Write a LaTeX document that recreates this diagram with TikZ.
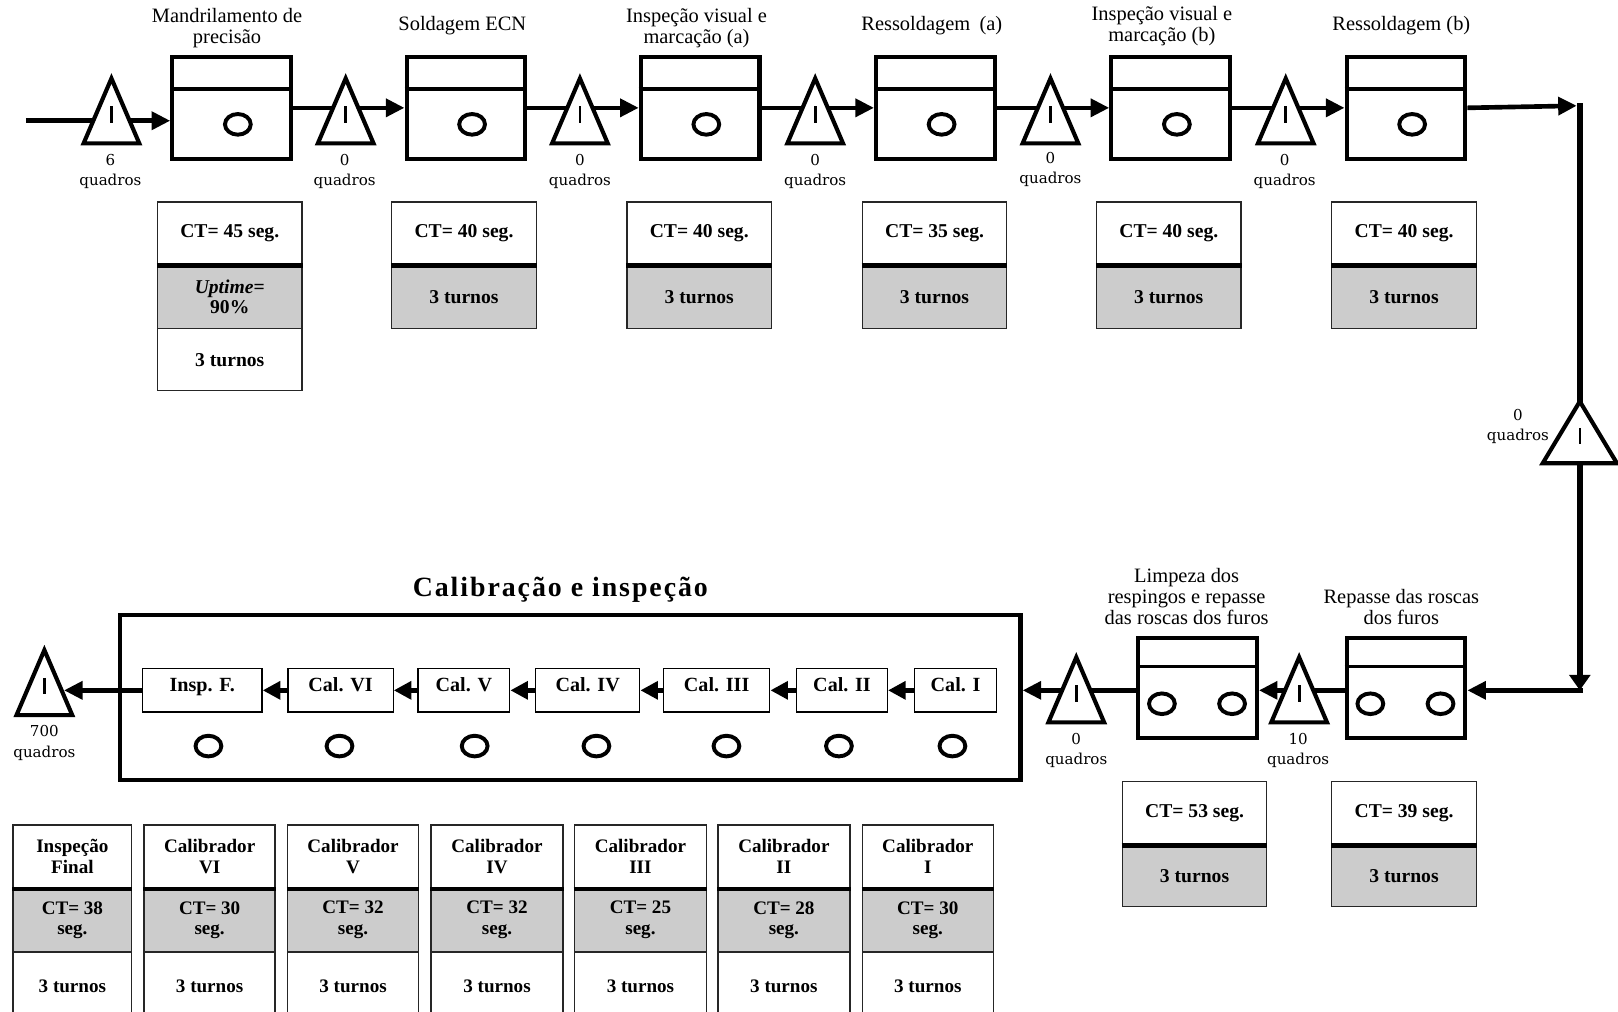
\documentclass[tikz,border=0pt]{standalone}
\usepackage{fontspec}
\setmainfont{Liberation Serif}
\newfontfamily\qfont{DejaVu Serif}
\newfontfamily\bigtitlefont[LetterSpace=7]{Liberation Serif}
\usetikzlibrary{arrows.meta,calc}
\definecolor{cellgray}{RGB}{204,204,204}
\tikzset{
  procbox/.style={draw,line width=4pt,minimum width=115pt,minimum height=99pt,inner sep=0pt,anchor=north west},
  flow/.style={line width=4.5pt},
  tipA/.style={-{Triangle[length=18pt,width=17pt]}},
  tipS/.style={-{Triangle[length=17pt,width=17pt]}},
  ttl/.style={font=\fontsize{19.8}{20}\selectfont,align=center,inner sep=0pt},
  qlab/.style={font=\qfont\fontsize{14.6}{19.5}\selectfont,align=center,inner sep=0pt},
  cell/.style={draw=black!85,line width=1.3pt,minimum width=140pt,inner sep=0pt,align=center,font=\bfseries\fontsize{19}{19}\selectfont,anchor=north west},
  bcell/.style={draw=black!85,line width=1.3pt,inner sep=0pt,align=center,font=\bfseries\fontsize{18.5}{20}\selectfont,anchor=north west},
  sepline/.style={line width=4pt},
  hdrline/.style={line width=3.5pt},
  calbox/.style={draw,line width=1.2pt,minimum height=42pt,inner sep=0pt,text height=13pt,text depth=10pt,font=\bfseries\fontsize{19.5}{20}\selectfont},
  opcircle/.style={line width=3.8pt},
  buf/.pic={
    \draw[line width=4pt,fill=white,line join=miter] (0,-31.5) -- (27,31.5) -- (-27,31.5) -- cycle;
    \draw[line width=2.6pt] (0,-4.5) -- (0,11.5);
  },
}
\begin{document}
\begin{tikzpicture}[x=1pt,y=-1pt]
\useasboundingbox (0,0) rectangle (1568,980);
\clip (0,0) rectangle (1568,980);
\fill[white] (0,0) rectangle (1568,980);

% ---------- top row process boxes ----------
\foreach \i/\x in {1/165,2/392,3/619,4/847,5/1075,6/1303}{
  \node[procbox] (b\i) at (\x,53) {};
  \draw[hdrline] ($(b\i.north west)+(0,33)$) -- ($(b\i.north east)+(0,33)$);
  \draw[opcircle] ($(b\i.center)+(6,16)$) ellipse [x radius=12.5pt, y radius=10pt];
}

% titles
\node[ttl] (h1) at (220,27) {Mandrilamento de\\precisão};
\node[ttl] (h2) at (448,25) {Soldagem ECN};
\node[ttl] (h3) at (675,27) {Inspeção visual e\\marcação (a)};
\node[ttl] (h4) at (903,25) {Ressoldagem\hspace{0.45em}(a)};
\node[ttl] (h5) at (1126,25) {Inspeção visual e\\marcação (b)};
\node[ttl] (h6) at (1358,25) {Ressoldagem (b)};

% connectors top row
\coordinate (in) at (25,117);
\draw[flow,tipA] (in) -- (in -| b1.west);
\foreach \a/\b in {1/2,2/3,3/4,4/5,5/6}{
  \draw[flow,tipA] (b\a.east) -- (b\b.west);
}
\coordinate (c1) at (1531,102.5);
\coordinate (c2) at (1531,669);
\draw[flow,tipA] (b6.east) -- ([xshift=-3pt]c1);
\draw[line width=6pt,-{Triangle[length=15pt,width=20pt]}] ([yshift=2.25pt]c1) -- (c2);

% buffers top row
\foreach \x in {108,335,562,790,1018,1246}{
  \pic at (\x,107.5) {buf};
}
\pic[xscale=1.333,yscale=0.952] at (1531,419) {buf};

% quantity labels top
\node[qlab] (q1) at (107,166) {6\\quadros};
\node[qlab] (q2) at (334,166) {0\\quadros};
\node[qlab] (q3) at (562,166) {0\\quadros};
\node[qlab] (q4) at (790,166) {0\\quadros};
\node[qlab] (q5) at (1018,164) {0\\quadros};
\node[qlab] (q6) at (1245,166) {0\\quadros};
\node[qlab] (q7) at (1471,413) {0\\quadros};

% ---------- top data boxes ----------
\node[cell,minimum height=61pt] (ct1) at (152,195) {CT= 45 seg.};
\node[cell,minimum height=62pt,fill=cellgray] (up1) at (152,256) {{\itshape Uptime}=\\90\%};
\node[cell,minimum height=60pt] (tu1) at (152,318) {3 turnos};
\draw[sepline] (ct1.south west) -- (ct1.south east);
\foreach \i/\x/\v in {2/379/40,3/607/40,4/835/35,5/1062/40,6/1290/40}{
  \node[cell,minimum height=61pt] (ct\i) at (\x,195) {CT= \v\ seg.};
  \node[cell,minimum height=62pt,fill=cellgray] (tu\i) at (\x,256) {3 turnos};
  \draw[sepline] (ct\i.south west) -- (ct\i.south east);
}

% ---------- bottom right processes ----------
\node[procbox,minimum height=97pt] (rb) at (1303,616) {};
\node[procbox,minimum height=97pt] (lb) at (1101,616) {};
\foreach \n in {rb,lb}{
  \draw[hdrline] ($(\n.north west)+(0,30)$) -- ($(\n.north east)+(0,30)$);
  \draw[opcircle] ($(\n.west)+(25,15.5)$) ellipse [x radius=12.5pt, y radius=10pt];
  \draw[opcircle] ($(\n.east)+(-26,15.5)$) ellipse [x radius=12.5pt, y radius=10pt];
}
\node[ttl] (h7) at (1150,578) {Limpeza dos\\respingos e repasse\\das roscas dos furos};
\node[ttl] (h8) at (1358,588) {Repasse das roscas\\dos furos};

% big calibration box
\node[draw,line width=4pt,minimum width=873pt,minimum height=160pt,inner sep=0pt,anchor=north west] (big) at (114,594) {};
\node[font=\bigtitlefont\bfseries\fontsize{27}{27}\selectfont,inner sep=0pt] (calt) at (543,572) {Calibração e inspeção};

\node[calbox,minimum width=80pt]  (cal1) at (926,669) {Cal. I};
\node[calbox,minimum width=88pt]  (cal2) at (816,669) {Cal. II};
\node[calbox,minimum width=103pt] (cal3) at (694.5,669) {Cal. III};
\node[calbox,minimum width=101pt] (cal4) at (569.5,669) {Cal. IV};
\node[calbox,minimum width=89pt]  (cal5) at (449.5,669) {Cal. V};
\node[calbox,minimum width=102pt] (cal6) at (330,669) {Cal. VI};
\node[calbox,minimum width=116pt] (cal7) at (196,669) {Insp. F.};
\foreach \a/\b in {1/2,2/3,3/4,4/5,5/6,6/7}{
  \draw[flow,tipS] (cal\a.west) -- (cal\b.east);
}
\foreach \cx in {923,813,704,578,460,329,202}{
  \draw[opcircle] (\cx,723) ellipse [x radius=12.5pt, y radius=10pt];
}

% bottom flow connectors
\coordinate (fy) at (0,669);
\draw[flow,tipA] ([xshift=3pt]c2) -- (c2 -| rb.east);
\draw[flow,tipA] (fy -| rb.west) -- (fy -| lb.east);
\draw[flow,tipA] (fy -| lb.west) -- (fy -| big.east);

% bottom buffers
\pic at (1259,668.5) {buf};
\pic at (1043,668.5) {buf};
\pic at (43,661.5) {buf};
\coordinate (t700r) at (62,669);
\draw[flow,tipA] (cal7.west) -- (t700r);

\node[qlab] (q8) at (1258,727) {10\\quadros};
\node[qlab] (q9) at (1043,727) {0\\quadros};
\node[qlab] (q10) at (43,720) {700\\quadros};

% bottom right data boxes
\foreach \i/\x/\v in {7/1087/53,8/1290/39}{
  \node[cell,minimum height=61pt] (ct\i) at (\x,757) {CT= \v\ seg.};
  \node[cell,minimum height=60pt,fill=cellgray] (tu\i) at (\x,818) {3 turnos};
  \draw[sepline] (ct\i.south west) -- (ct\i.south east);
}

% bottom left data boxes
\foreach \n/\x/\w/\h/\v in {a/12/115/{Inspeção\\Final}/38, b/139/127/{Calibrador\\VI}/30, c/278/127/{Calibrador\\V}/32, d/417/128/{Calibrador\\IV}/32, e/556/128/{Calibrador\\III}/25, f/695/128/{Calibrador\\II}/28, g/835/127/{Calibrador\\I}/30}{
  \node[bcell,minimum width=\w pt,minimum height=61pt] (hd\n) at (\x,799) {\h};
  \node[bcell,minimum width=\w pt,minimum height=62pt,fill=cellgray] (cv\n) at (\x,860) {CT= \v\\seg.};
  \node[bcell,minimum width=\w pt,minimum height=66pt] (tn\n) at (\x,922) {3 turnos};
  \draw[sepline] (hd\n.south west) -- (hd\n.south east);
}
\end{tikzpicture}
\end{document}
